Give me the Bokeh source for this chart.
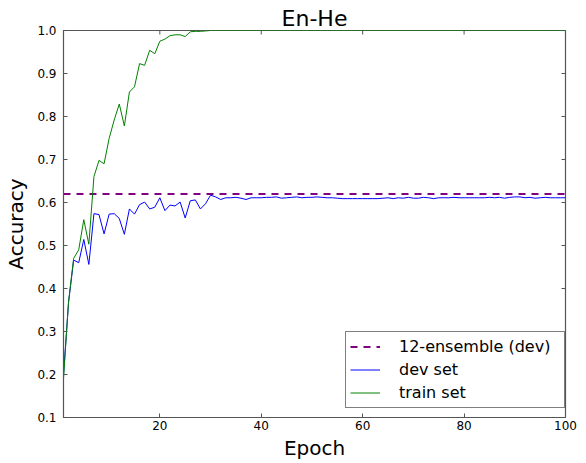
import math
from bokeh.plotting import figure
from bokeh.models import (LinearAxis, Range1d, FixedTicker, Legend, LegendItem,
                          NumeralTickFormatter)
from bokeh.embed import file_html
from bokeh.resources import INLINE

epochs = list(range(1, 101))

dev_acc = [
    0.200, 0.368, 0.466, 0.460, 0.514, 0.456, 0.574, 0.572, 0.527, 0.573,
    0.574, 0.563, 0.526, 0.585, 0.573, 0.595, 0.601, 0.585, 0.589, 0.611,
    0.581, 0.594, 0.592, 0.601, 0.564, 0.604, 0.606, 0.585, 0.597, 0.617,
    0.613, 0.607, 0.611, 0.611, 0.612, 0.610, 0.607, 0.611, 0.611, 0.611,
    0.612, 0.612, 0.613, 0.610, 0.611, 0.612, 0.613, 0.611, 0.612, 0.612,
    0.613, 0.612, 0.611, 0.611, 0.610, 0.609, 0.609, 0.609, 0.609, 0.609,
    0.609, 0.609, 0.609, 0.610, 0.611, 0.609, 0.611, 0.610, 0.612, 0.610,
    0.610, 0.612, 0.611, 0.609, 0.611, 0.611, 0.611, 0.612, 0.611, 0.611,
    0.611, 0.611, 0.611, 0.611, 0.612, 0.611, 0.612, 0.610, 0.612, 0.613,
    0.613, 0.611, 0.612, 0.610, 0.611, 0.612, 0.611, 0.611, 0.611, 0.611,
]

train_acc = [
    0.190, 0.370, 0.470, 0.490, 0.560, 0.503, 0.660, 0.698, 0.690, 0.749,
    0.792, 0.829, 0.778, 0.857, 0.869, 0.923, 0.919, 0.954, 0.946, 0.975,
    0.980, 0.988, 0.990, 0.990, 0.986, 0.997, 0.998, 0.998, 0.999, 1.000,
] + [1.000] * 70

ensemble_dev = 0.62

y_ticks = [0.1, 0.2, 0.3, 0.4, 0.5, 0.6, 0.7, 0.8, 0.9, 1.0]
x_ticks = [20, 40, 60, 80, 100]
x_start, x_end = 1, 100
y_start, y_end = 0.1, 1.0

FONT = "DejaVu Sans"
AXIS_COLOR = "#555555"

p = figure(
    width=578, height=462,
    output_backend="svg", toolbar_location=None,
    x_range=Range1d(x_start, x_end), y_range=Range1d(y_start, y_end),
    x_axis_location=None, y_axis_location=None,
    min_border_left=63, min_border_right=13,
    min_border_top=30, min_border_bottom=43,
    title="En-He",
)
p.title.text_font = FONT
p.title.text_font_size = "22px"
p.title.text_font_style = "normal"
p.title.text_color = "black"
p.title.align = "center"
p.title.standoff = 0
p.title.offset = 0

p.grid.visible = False
p.outline_line_color = AXIS_COLOR
p.outline_line_width = 1.2
p.background_fill_color = "white"
p.border_fill_color = "white"


def style_axis(ax):
    ax.major_tick_in = 4
    ax.major_tick_out = 0
    ax.minor_tick_in = 0
    ax.minor_tick_out = 0
    ax.axis_line_color = AXIS_COLOR
    ax.major_tick_line_color = AXIS_COLOR
    ax.major_label_text_font = FONT
    ax.major_label_text_color = "black"
    ax.major_label_text_font_size = "12px"
    ax.axis_label_text_font = FONT
    ax.axis_label_text_font_size = "20px"
    ax.axis_label_text_font_style = "normal"
    ax.axis_label_text_color = "black"


xb = LinearAxis(ticker=FixedTicker(ticks=x_ticks), axis_label="Epoch")
style_axis(xb)
xb.major_label_standoff = 3
xb.axis_label_standoff = 3
p.add_layout(xb, "below")

yl = LinearAxis(ticker=FixedTicker(ticks=y_ticks), axis_label="Accuracy",
                formatter=NumeralTickFormatter(format="0.0"))
style_axis(yl)
yl.major_label_standoff = 7
yl.axis_label_standoff = 6
p.add_layout(yl, "left")

# inward ticks on the top and right edges (half of each dash is clipped by the frame)
p.scatter(x_ticks, [y_end] * len(x_ticks), marker="dash", size=8, angle=math.pi / 2,
          line_color=AXIS_COLOR, line_width=1)
p.scatter([x_end] * len(y_ticks), y_ticks, marker="dash", size=8,
          line_color=AXIS_COLOR, line_width=1)

r_ens = p.line([epochs[0], epochs[-1]], [ensemble_dev, ensemble_dev],
               line_color="#800080", line_width=2, line_dash="7 6")
r_dev = p.line(epochs, dev_acc, line_color="#0000ff", line_width=1)
r_train = p.line(epochs, train_acc, line_color="#008000", line_width=1)

legend = Legend(
    items=[
        LegendItem(label="12-ensemble (dev)", renderers=[r_ens]),
        LegendItem(label="dev set", renderers=[r_dev]),
        LegendItem(label="train set", renderers=[r_train]),
    ],
    location=(282, 9),
    label_text_font=FONT,
    label_text_font_size="16px",
    label_text_color="black",
    label_height=21, glyph_height=21, glyph_width=30, label_width=161,
    label_standoff=19, spacing=2, padding=4,
    border_line_color="black", border_line_width=1,
    background_fill_color="white", background_fill_alpha=1.0,
    margin=0,
)
p.add_layout(legend, "center")

open("out.html", "w").write(file_html(p, INLINE))
